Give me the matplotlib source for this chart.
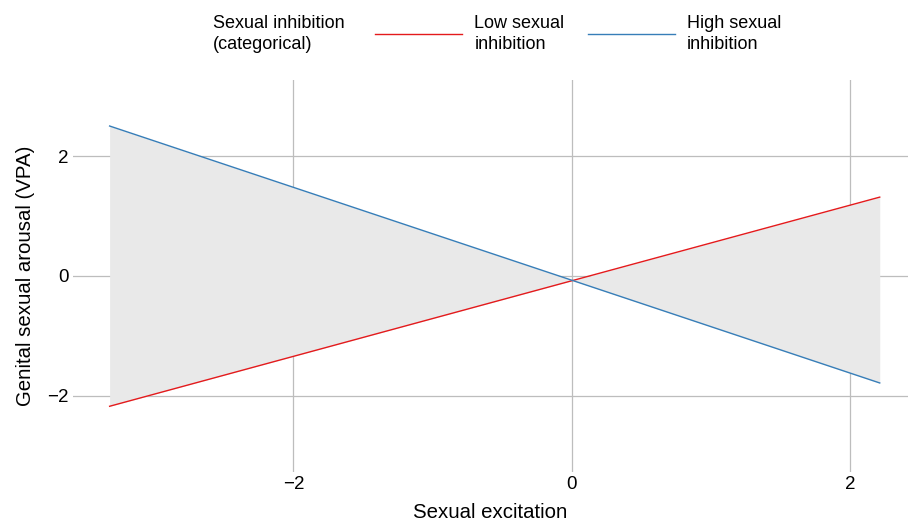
import matplotlib
matplotlib.use("Agg")
import matplotlib.pyplot as plt
import numpy as np

plt.rcParams['font.family'] = ['Liberation Sans', 'DejaVu Sans']

x_ends = [-3.32, 2.21]
low_si = [-2.18, 1.32]
high_si = [2.51, -1.79]
series_labels = ["Low sexual\ninhibition", "High sexual\ninhibition"]
legend_title = "Sexual inhibition\n(categorical)"
ticks = [-2, 0, 2]

fig = plt.figure(figsize=(9.08, 5.22), dpi=100)
ax = fig.add_axes([73/908, 1-472/522, (908-73)/908, (472-80)/522])

ax.fill_between(x_ends, low_si, high_si, color='#e9e9e9', linewidth=0, zorder=1)
l1, = ax.plot(x_ends, low_si, color='#e41a1c', lw=1.0, zorder=3)
l2, = ax.plot(x_ends, high_si, color='#377eb8', lw=1.0, zorder=3)

ax.set_xlim(-3.583, 2.413)
ax.set_ylim(-3.28, 3.28)
ax.set_xticks(ticks)
ax.set_yticks(ticks)
ax.set_xticklabels(['\u22122', '0', '2'])
ax.set_yticklabels(['\u22122', '0', '2'])
ax.grid(True, color='#bdbdbd', lw=0.9, zorder=0)
ax.set_axisbelow(True)
for s in ax.spines.values():
    s.set_visible(False)
ax.tick_params(length=0, labelsize=13.5, colors='black')
ax.tick_params(axis='x', pad=3)
ax.tick_params(axis='y', pad=3)
ax.set_xlabel("Sexual excitation", fontsize=14.7, labelpad=7)
ax.set_ylabel("Genital sexual arousal (VPA)", fontsize=14.7, labelpad=9)

fig.text(213/908, 1-34/522, legend_title, fontsize=13, va='center', ha='left', linespacing=1.25)
fig.legend([l1, l2], series_labels, ncol=2, loc='center left',
           bbox_to_anchor=(375/908, 1-34/522), frameon=False, fontsize=13,
           handlelength=4.8, handletextpad=0.7, columnspacing=1.3, borderpad=0,
           borderaxespad=0)
for t in fig.legends[0].get_texts():
    t.set_linespacing(1.25)

fig.savefig("out.png", dpi=100)
